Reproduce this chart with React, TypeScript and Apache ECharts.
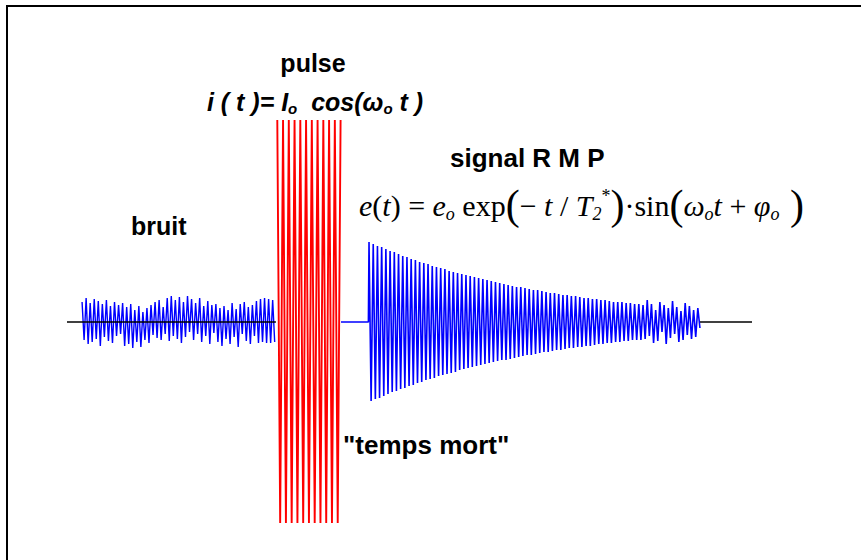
import React, { useEffect, useRef } from "react";
import * as echarts from "echarts";

// Time axis (arbitrary units) and amplitude axis
const T_MIN = 0;
const T_MAX = 100;
const Y_MIN = -210;
const Y_MAX = 210;

// Noise ("bruit") extrema
const noiseStart = 2.2;
const noiseStep = 0.296;
const noiseValues = [
  20, -18, 24, -22, 19, -20, 23, -17, 21, -24, 18, -15, 22, -19, 16, -21, 20, -14, 17, -12, 19,
  -24, 15, -22, 18, -26, 12, -20, 16, -25, 10, -18, 14, -21, 17, -13, 20, -16, 22, -18, 15,
  -12, 24, -19, 26, -14, 22, -17, 25, -21, 20, -15, 26, -10, 23, -18, 19, -12, 24, -20, 16, -14, 21, -22, 17, -11,
  18, -20, 14, -24, 16, -17, 12, -22, 19, -15, 13, -25, 18, -12, 20, -19, 15, -22, 17, -14, 21,
  -21, 23, -20, 24, -21, 23, -21, 22, -20,
];

// RF pulse extrema
const pulseStart = 30.7;
const pulseStep = 0.42;
const pulseValues = [
  202, -201, 202, -201, 202, -201, 202, -201, 202, -201, 202, -201,
  202, -201, 202, -201, 202, -201, 202, -201, 202, -201, 202,
];

// dead time, then NMR signal (free induction decay) extrema
const deadTime = [40.0, 44.0];
const signalStart = 44.09;
const signalStep = 0.3077;
const signalValues = [
  80, -79, 78, -77, 76, -76, 75, -74, 73, -72,
  71, -70, 70, -69, 68, -67, 66, -66, 65, -64,
  63, -63, 62, -61, 60, -60, 59, -58, 58, -57,
  56, -56, 55, -54, 54, -53, 53, -52, 51, -51,
  50, -50, 49, -48, 48, -47, 47, -46, 46, -45,
  45, -44, 44, -43, 43, -42, 42, -41, 41, -40,
  40, -39, 39, -38, 38, -38, 37, -37, 36, -36,
  35, -35, 35, -34, 34, -33, 33, -33, 32, -32,
  32, -31, 31, -30, 30, -30, 29, -29, 29, -28,
  28, -28, 27, -27, 27, -26, 26, -26, 26, -25,
  25, -25, 24, -24, 24, -24, 23, -23, 23, -22,
  22, -22, 22, -21, 21, -21, 20, -20, 20, -20,
  20, -19, 19, -19, 19, -18, 18, -18, 18, -18,
  17, -17,
  22, -14, 18, -21, 12, -19, 20, -10, 17, -22, 14, -16, 21, -12, 15, -20, 11, -18, 19, -13, 16, -17, 12, -15, 14, -6,
];

// baseline pieces
const baselineLeft = [0, 30.5];
const baselineRight = [92.4, 100];

const SANS = "Arial, 'Liberation Sans', sans-serif";
const SERIF = "'Times New Roman', 'Liberation Serif', serif";

export default function App() {
  const ref = useRef<HTMLDivElement>(null);

  useEffect(() => {
    if (!ref.current) return;
    const chart = echarts.init(ref.current, undefined, { renderer: "svg" });

    const noiseData = noiseValues.map((v, i) => [noiseStart + i * noiseStep, v]);
    const pulseData = pulseValues.map((v, i) => [pulseStart + i * pulseStep, v]);
    const signalData: number[][] = [
      [deadTime[0], 0],
      [deadTime[1], 0],
      ...signalValues.map((v, i) => [signalStart + i * signalStep, v]),
    ];

    const lineBase = {
      type: "line" as const,
      showSymbol: false,
      symbol: "none",
      silent: true,
    };

    chart.setOption({
      animation: false,
      backgroundColor: "#ffffff",
      grid: { left: 67, right: 109, top: 112, bottom: 28 },
      xAxis: { type: "value", min: T_MIN, max: T_MAX, show: false },
      yAxis: { type: "value", min: Y_MIN, max: Y_MAX, show: false },
      series: [
        { ...lineBase, name: "bruit", data: noiseData, lineStyle: { color: "#0000ff", width: 1.4 }, z: 2 },
        {
          ...lineBase,
          name: "base1",
          data: baselineLeft.map((t) => [t, 0]),
          lineStyle: { color: "#000000", width: 1.5 },
          z: 3,
        },
        {
          ...lineBase,
          name: "base2",
          data: baselineRight.map((t) => [t, 0]),
          lineStyle: { color: "#000000", width: 1.5 },
          z: 3,
        },
        { ...lineBase, name: "signal", data: signalData, lineStyle: { color: "#0000ff", width: 1.6 }, z: 4 },
        { ...lineBase, name: "pulse", data: pulseData, lineStyle: { color: "#ff0000", width: 1.9 }, z: 5 },
      ],
      graphic: [
        {
          type: "rect",
          shape: { x: 7, y: 6, width: 900, height: 600 },
          style: { fill: "none", stroke: "#000", lineWidth: 2 },
          silent: true,
        },
        {
          type: "text",
          x: 313,
          y: 63,
          style: {
            text: "pulse",
            font: `bold 25px ${SANS}`,
            fill: "#000",
            align: "center",
            verticalAlign: "middle",
          },
        },
        {
          type: "text",
          x: 315,
          y: 102,
          style: {
            text: "{b|i ( t )= I}{s|o}{b|  cos(ω}{s|o}{b| t )}",
            fill: "#000",
            align: "center",
            verticalAlign: "middle",
            rich: {
              b: { fontFamily: SANS, fontSize: 25, fontWeight: "bold", fontStyle: "italic", lineHeight: 28 },
              s: {
                fontFamily: SANS,
                fontSize: 15,
                fontWeight: "bold",
                fontStyle: "italic",
                verticalAlign: "bottom",
                lineHeight: 21,
              },
            },
          },
        },
        {
          type: "text",
          x: 450,
          y: 158,
          style: {
            text: "signal R M P",
            font: `bold 26px ${SANS}`,
            fill: "#000",
            align: "left",
            verticalAlign: "middle",
          },
        },
        {
          type: "text",
          x: 359,
          y: 205,
          style: {
            text:
              "{i|e}{r|(}{i|t}{r|) = }{i|e}{s|o}{r| exp}{p|(}{r|− }{i|t}{r| / }{i|T}{s|2}{sup|*}{p|)}{r|·sin}{p|(}{i|ω}{s|o}{i|t}{r| + }{i|φ}{s|o}{p| )}",
            fill: "#000",
            align: "left",
            verticalAlign: "middle",
            rich: {
              i: { fontFamily: SERIF, fontSize: 30, fontStyle: "italic", lineHeight: 36 },
              r: { fontFamily: SERIF, fontSize: 30, lineHeight: 36 },
              p: { fontFamily: SERIF, fontSize: 42, lineHeight: 36 },
              s: { fontFamily: SERIF, fontSize: 18, fontStyle: "italic", verticalAlign: "bottom", lineHeight: 28 },
              sup: { fontFamily: SERIF, fontSize: 18, verticalAlign: "top", lineHeight: 28 },
            },
          },
        },
        {
          type: "text",
          x: 131,
          y: 226,
          style: {
            text: "bruit",
            font: `bold 25px ${SANS}`,
            fill: "#000",
            align: "left",
            verticalAlign: "middle",
          },
        },
        {
          type: "text",
          x: 343,
          y: 445,
          style: {
            text: '"temps mort"',
            font: `bold 26px ${SANS}`,
            fill: "#000",
            align: "left",
            verticalAlign: "middle",
          },
        },
      ],
    });

    return () => chart.dispose();
  }, []);

  return (
    <div
      ref={ref}
      style={{ position: "fixed", left: 0, top: 0, width: 861, height: 560, background: "#fff" }}
    />
  );
}
